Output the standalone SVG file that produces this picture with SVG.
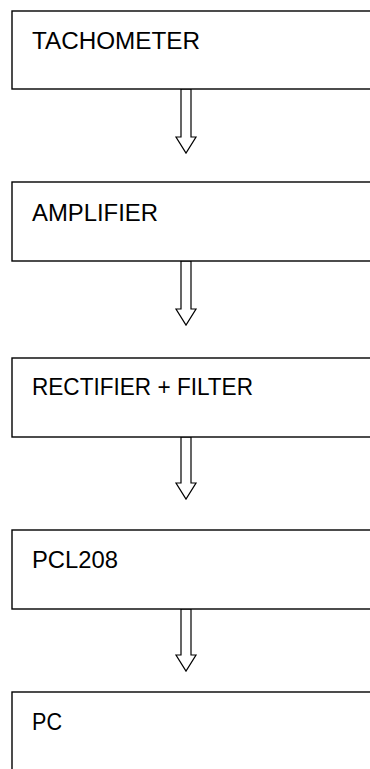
<svg xmlns="http://www.w3.org/2000/svg" width="370" height="769" viewBox="0 0 370 769">
<style>
.box{fill:#fff;stroke:#000;stroke-width:1.4}
.lbl{font-family:"Liberation Sans","Open Sans",sans-serif;font-size:23px;fill:#000}
.arr{fill:#fff;stroke:#000;stroke-width:1.2;stroke-linejoin:miter}
</style>
<rect width="370" height="769" fill="#fff"/>
<g id="connectors">
<polygon class="arr" points="181,89 191,89 191,137 196,137 186,153 176,137 181,137"/>
<polygon class="arr" points="181,261 191,261 191,309 196,309 186,325 176,309 181,309"/>
<polygon class="arr" points="181,437 191,437 191,483 196,483 186,499 176,483 181,483"/>
<polygon class="arr" points="181,609 191,609 191,655 196,655 186,671 176,655 181,655"/>
</g>
<g id="tachometer"><rect class="box" x="12" y="11" width="370" height="78"/><text class="lbl" x="32" y="49" textLength="168" lengthAdjust="spacingAndGlyphs">TACHOMETER</text></g>
<g id="amplifier"><rect class="box" x="12" y="182" width="370" height="79"/><text class="lbl" x="32" y="221" textLength="126" lengthAdjust="spacingAndGlyphs">AMPLIFIER</text></g>
<g id="rectifier"><rect class="box" x="12" y="358" width="370" height="79"/><text class="lbl" x="32" y="395" textLength="221" lengthAdjust="spacingAndGlyphs">RECTIFIER + FILTER</text></g>
<g id="pcl208"><rect class="box" x="12" y="530" width="370" height="79"/><text class="lbl" x="32" y="568" textLength="86" lengthAdjust="spacingAndGlyphs">PCL208</text></g>
<g id="pc"><rect class="box" x="12" y="692" width="370" height="100"/><text class="lbl" x="32" y="730" textLength="30" lengthAdjust="spacingAndGlyphs">PC</text></g>
</svg>
